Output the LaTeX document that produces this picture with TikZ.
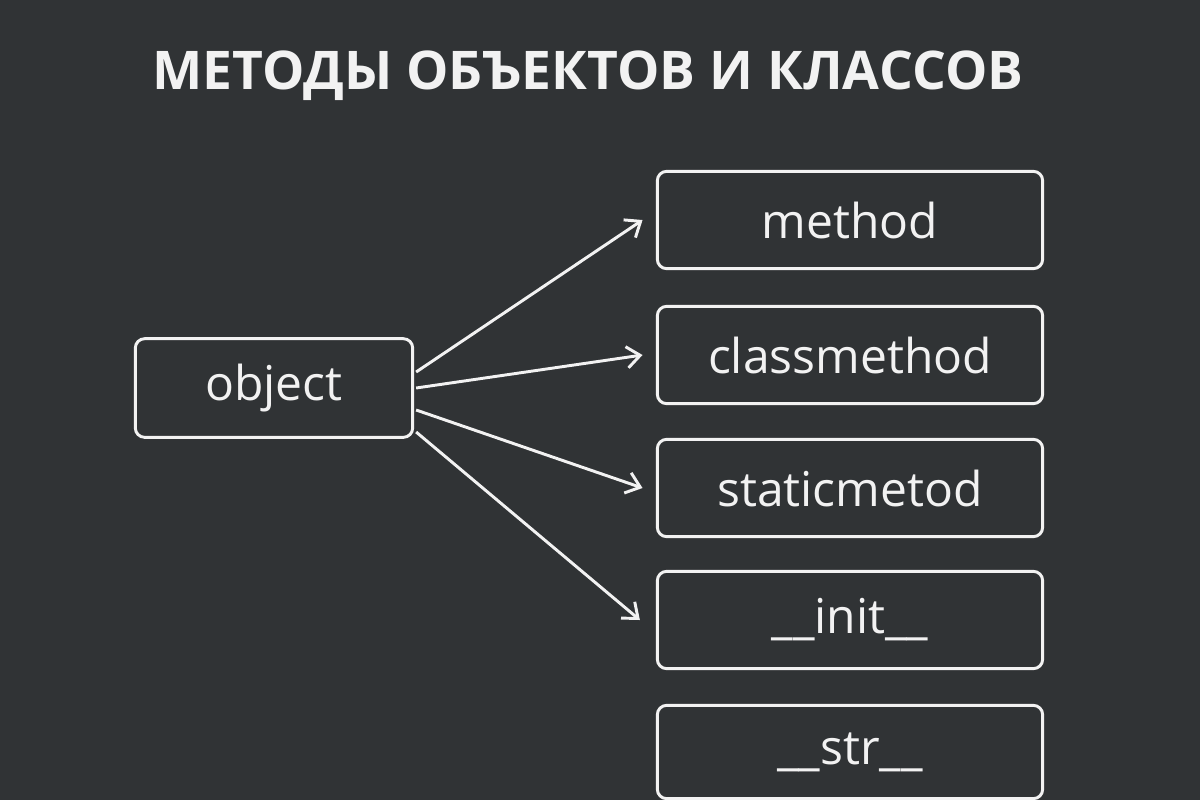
\documentclass[tikz,border=0pt]{standalone}
\usepackage{fontspec}
\setmainfont{Open Sans}
\usetikzlibrary{arrows.meta}
\definecolor{bg}{HTML}{303335}
\definecolor{fg}{HTML}{F2F2F2}
\begin{document}
\begin{tikzpicture}[x=0.75pt,y=-0.75pt,
  box/.style={draw=fg,line width=2.2pt,rounded corners=7pt,text=fg,font=\fontsize{36}{40}\selectfont,inner sep=0pt},
  conn/.style={draw=fg,line width=2.2pt,-{Straight Barb[length=10pt,width=16pt,line width=2.2pt]}}]
\fill[bg] (0,0) rectangle (1200,800);
\useasboundingbox (0,0) rectangle (1200,800);
\node[text=fg,font=\fontsize{40}{44}\selectfont\bfseries] (title) at (588,76) {МЕТОДЫ ОБЪЕКТОВ И КЛАССОВ};
\node[box,minimum width=208pt,minimum height=74pt] (obj) at (274,388) {object};
\node[box,minimum width=289pt,minimum height=73pt] (m1) at (850,220) {method};
\node[box,minimum width=289pt,minimum height=73pt] (m2) at (850,355) {classmethod};
\node[box,minimum width=289pt,minimum height=73pt] (m3) at (850,488) {staticmetod};
\node[box,minimum width=289pt,minimum height=73pt] (m4) at (850,620) {\_\_init\_\_};
\node[box,minimum width=289pt,minimum height=70pt] (m5) at (850,752) {\_\_str\_\_};
\draw[conn] (obj.east) ++(2,-16) -- ([xshift=-10pt]m1.west);
\draw[conn] (obj.east) ++(2,0) -- ([xshift=-10pt]m2.west);
\draw[conn] (obj.east) ++(2,22) -- ([xshift=-10pt]m3.west);
\draw[conn] (obj.east) ++(2,44) -- ([xshift=-12pt]m4.west);
\end{tikzpicture}
\end{document}
